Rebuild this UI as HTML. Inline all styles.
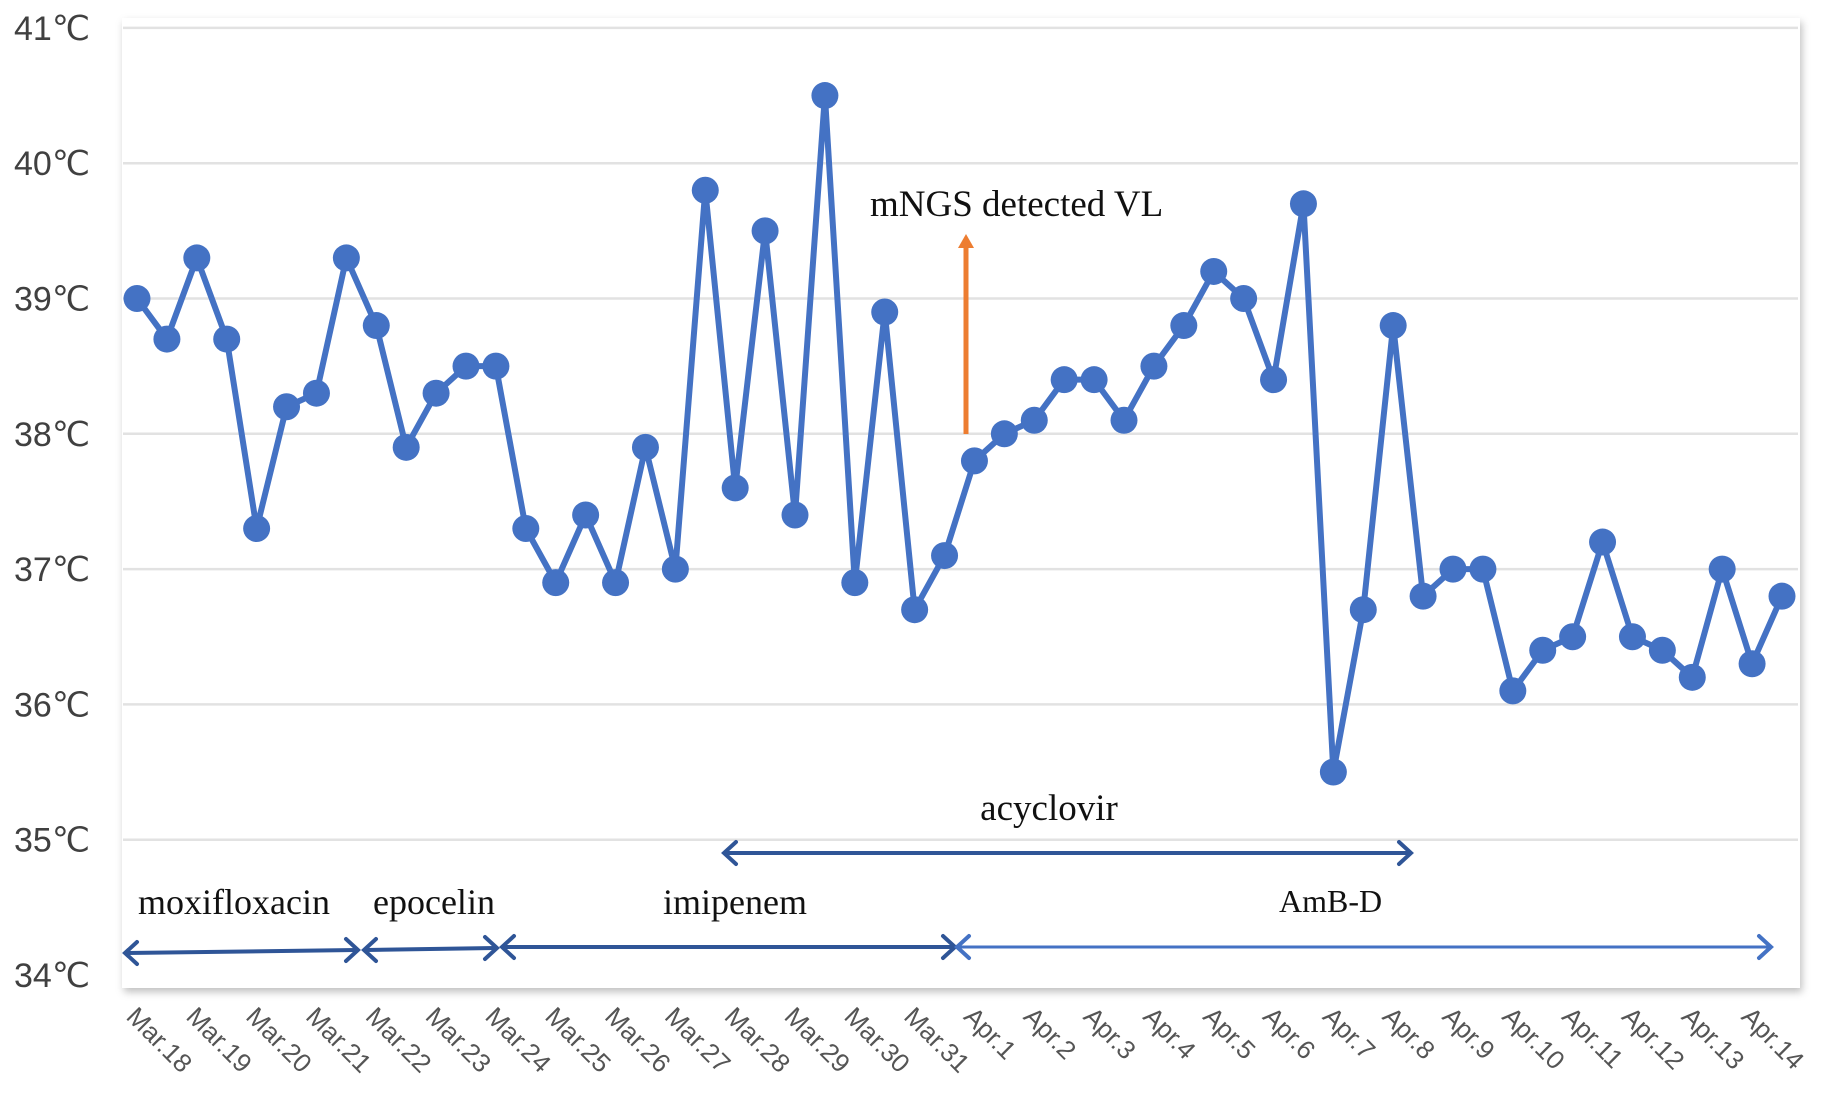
<!DOCTYPE html>
<html><head><meta charset="utf-8"><style>
html,body{margin:0;padding:0;background:#fff;}
svg{display:block;}
</style></head><body>
<svg id="chart" width="1831" height="1097" viewBox="0 0 1831 1097" xmlns="http://www.w3.org/2000/svg">
<defs>
<filter id="sh" x="-5%" y="-5%" width="110%" height="110%"><feDropShadow dx="2" dy="4" stdDeviation="4" flood-color="#000" flood-opacity="0.25"/></filter>
</defs>
<rect x="122" y="18" width="1678" height="970" fill="#fff" filter="url(#sh)"/>
<g id="grid"></g>
<g id="ylabels"></g>
<g id="xlabels"></g>
<g id="series"></g>
<g id="annot" font-family="'Liberation Serif',serif" fill="#111">
<text x="870" y="216" font-size="37">mNGS detected VL</text>
<line x1="966" y1="434" x2="966" y2="246" stroke="#ed7d31" stroke-width="5"/>
<polygon points="958,248 974,248 966,234" fill="#ed7d31"/>
<text x="1049" y="820" font-size="37" text-anchor="middle">acyclovir</text>
<text x="138" y="914" font-size="36">moxifloxacin</text>
<text x="373" y="914" font-size="36">epocelin</text>
<text x="663" y="914" font-size="36">imipenem</text>
<text x="1279" y="912" font-size="32">AmB-D</text>
</g>
<g id="arrows"></g>
</svg>
<script>
const categories = ["Mar.18","Mar.19","Mar.20","Mar.21","Mar.22","Mar.23","Mar.24","Mar.25","Mar.26","Mar.27","Mar.28","Mar.29","Mar.30","Mar.31","Apr.1","Apr.2","Apr.3","Apr.4","Apr.5","Apr.6","Apr.7","Apr.8","Apr.9","Apr.10","Apr.11","Apr.12","Apr.13","Apr.14"];
const temps = [39.0,38.7,39.3,38.7,37.3,38.2,38.3,39.3,38.8,37.9,38.3,38.5,38.5,37.3,36.9,37.4,36.9,37.9,37.0,39.8,37.6,39.5,37.4,40.5,36.9,38.9,36.7,37.1,37.8,38.0,38.1,38.4,38.4,38.1,38.5,38.8,39.2,39.0,38.4,39.7,35.5,36.7,38.8,36.8,37.0,37.0,36.1,36.4,36.5,37.2,36.5,36.4,36.2,37.0,36.3,36.8];
const yTicks = [34,35,36,37,38,39,40,41];
const yTickLabels = ["34℃","35℃","36℃","37℃","38℃","39℃","40℃","41℃"];

const NS = "http://www.w3.org/2000/svg";
const X0 = 137, X1 = 1782;
function xPos(i){ return X0 + i*(X1-X0)/(temps.length-1); }
function yPos(v){ return 975 - (v-34)*135.3; }
function mk(tag, attrs, parent){ const e=document.createElementNS(NS,tag); for(const k in attrs) e.setAttribute(k,attrs[k]); parent.appendChild(e); return e; }

const grid=document.getElementById('grid'), yl=document.getElementById('ylabels');
yTicks.forEach((t,i)=>{
  const y=yPos(t);
  if(t>34){
    const l=mk('line',{x1:123,x2:1798,y1:y,y2:y,stroke:'#e2e2e2','stroke-width':2.5},grid);
    
    
  }
  const tx=mk('text',{x:14,y:y+12,'font-size':34,fill:'#404040','font-family':"'Liberation Sans',sans-serif"},yl);
  tx.textContent=yTickLabels[i];
  
  
});

const xl=document.getElementById('xlabels');
categories.forEach((c,i)=>{
  const x=xPos(i*2)-12, y=1018;
  const t=mk('text',{x:x,y:y,'font-size':26,fill:'#555','font-family':"'Liberation Sans',sans-serif",transform:`rotate(45 ${x} ${y})`},xl);
  t.textContent=c;
  
  
});

const s=document.getElementById('series');
const pts=temps.map((v,i)=>xPos(i)+','+yPos(v)).join(' ');
const pl=mk('polyline',{points:pts,fill:'none',stroke:'#4472c4','stroke-width':6,'stroke-linejoin':'round'},s);


temps.forEach((v,i)=>{
  const c=mk('circle',{cx:xPos(i),cy:yPos(v),r:13.5,fill:'#4472c4'},s);
  
  
});

const ar=document.getElementById('arrows');
function dbl(x1,x2,y1,y2,col,w,name){
  const g=mk('g',{},ar);
  
  
  mk('line',{x1:x1+2,x2:x2-2,y1:y1,y2:y2,stroke:col,'stroke-width':w},g);
  mk('polyline',{points:`${x1+12},${y1-11} ${x1},${y1} ${x1+12},${y1+11}`,fill:'none',stroke:col,'stroke-width':4,'stroke-linecap':'round'},g);
  mk('polyline',{points:`${x2-12},${y2-11} ${x2},${y2} ${x2-12},${y2+11}`,fill:'none',stroke:col,'stroke-width':4,'stroke-linecap':'round'},g);
}
dbl(724,1411,853,853,'#2f5597',4,'acyclovir-arrow');
dbl(125,358,953,950,'#2f5597',4,'moxifloxacin-arrow');
dbl(364,497,950,948,'#2f5597',4,'epocelin-arrow');
dbl(502,955,947,947,'#2f5597',4,'imipenem-arrow');
dbl(957,1771,947,947,'#4472c4',3,'amb-d-arrow');
</script>
</body></html>
